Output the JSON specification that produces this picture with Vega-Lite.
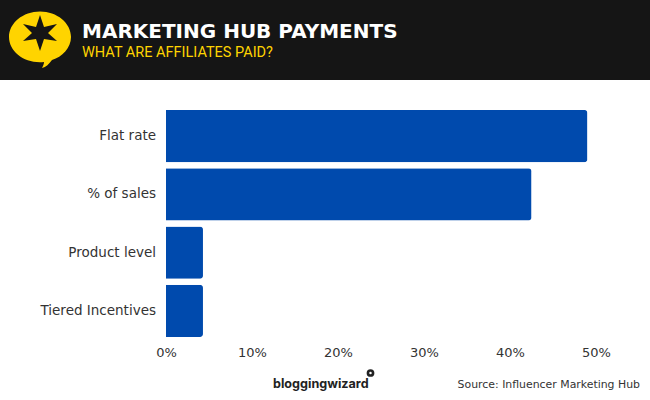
{
"$schema":"https://vega.github.io/schema/vega-lite/v6.json",
"width":430,"height":233,
"autosize":{"type":"none"},
"padding":{"left":166,"top":107,"right":54,"bottom":60},
"background":"white",
"view":{"stroke":null},
"title":{"text":"MARKETING HUB PAYMENTS","subtitle":"WHAT ARE AFFILIATES PAID?","anchor":"start","frame":"group","orient":"top","dx":-84,"offset":-59,"font":"DejaVu Sans","fontWeight":"bold","fontSize":20,"color":"#ffffff","subtitleFont":"Roboto","subtitleFontSize":14.5,"subtitleColor":"#ffd400","subtitlePadding":4,"zindex":1},
"data":{"values":[
{"method":"Flat rate","share":49},
{"method":"% of sales","share":42.5},
{"method":"Product level","share":4.3},
{"method":"Tiered Incentives","share":4.3}
]},
"layer":[
{"data":{"values":[{}]},"mark":{"type":"rect","color":"#151515","x":-166,"x2":484,"y":-107,"y2":-27},"encoding":{}},
{"mark":{"type":"bar","color":"#004aad","cornerRadiusEnd":3},
"encoding":{
"y":{"field":"method","type":"nominal","sort":null,"title":null,"scale":{"paddingInner":0.1,"paddingOuter":0.05},"axis":{"domain":false,"ticks":false,"grid":false,"labelFont":"DejaVu Sans","labelFontSize":13.5,"labelColor":"#333333","labelPadding":10.5,"labelLimit":160}},
"x":{"field":"share","type":"quantitative","title":null,"scale":{"domain":[0,50],"nice":false},"axis":{"values":[0,10,20,30,40,50],"labelExpr":"datum.value + '%'","domain":false,"ticks":false,"grid":false,"labelFont":"DejaVu Sans","labelFontSize":13,"labelColor":"#333333","labelPadding":6,"labelFlush":false}}
}},
{"data":{"values":[{}]},"mark":{"type":"point","filled":true,"opacity":1,"color":"#ffd400","size":4,"x":-126,"y":-70,"shape":"M-31 0C-31 -14 -17 -25.5 0 -25.5C17 -25.5 31 -14 31 0C31 11 22 20 12 23C9 27 6 30 2 31C3 29 4 27 4 25C-15 27 -31 15 -31 0Z"},"encoding":{}},
{"data":{"values":[{}]},"mark":{"type":"point","filled":true,"opacity":1,"color":"#151515","size":4,"x":-126,"y":-72,"shape":"M0 -20L4 -8L17 -11L8 -2L17 6L4 4L0 16L-4 4L-17 6L-8 -2L-17 -11L-4 -8Z"},"encoding":{}},
{"data":{"values":[{"t":"bloggingwizard"}]},"mark":{"type":"text","font":"Inter","fontWeight":"bold","fontSize":12.6,"color":"#222222","align":"left","baseline":"alphabetic","x":107,"y":281},"encoding":{"text":{"field":"t"}}},
{"data":{"values":[{}]},"mark":{"type":"point","filled":true,"opacity":1,"color":"#222222","size":60,"shape":"circle","x":204.5,"y":266},"encoding":{}},
{"data":{"values":[{}]},"mark":{"type":"point","filled":true,"opacity":1,"color":"#ffffff","size":6,"shape":"circle","x":204.5,"y":266},"encoding":{}},
{"data":{"values":[{"t":"Source: Influencer Marketing Hub"}]},"mark":{"type":"text","font":"DejaVu Sans","fontSize":10.9,"color":"#333333","align":"right","baseline":"alphabetic","x":474,"y":281},"encoding":{"text":{"field":"t"}}}
]
}
